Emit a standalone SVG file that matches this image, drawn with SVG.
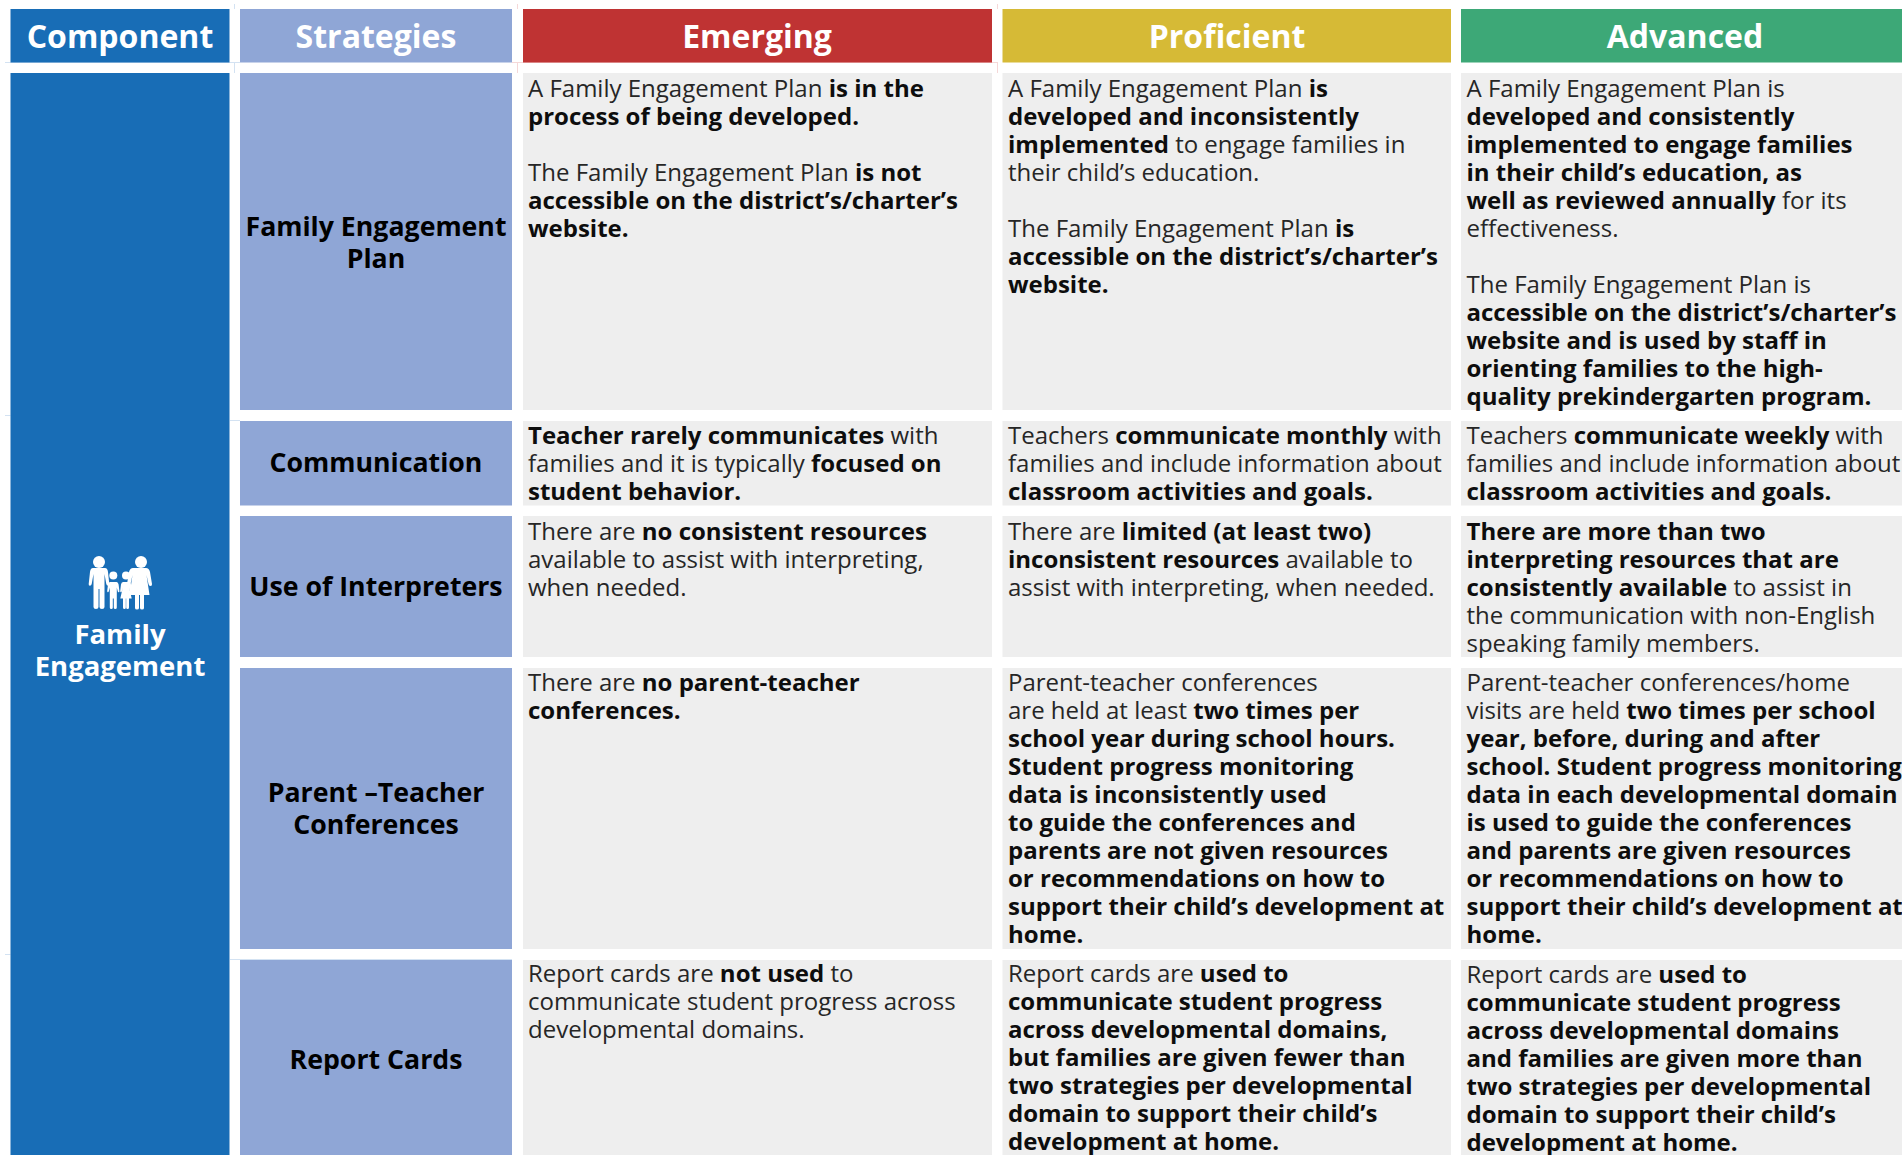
<svg xmlns="http://www.w3.org/2000/svg" width="1902" height="1155" viewBox="0 0 1902 1155">
<style>
text{font-family:"Open Sans","Noto Sans","Liberation Sans",sans-serif}
.h{font-size:32px;font-weight:700;fill:#fff;text-anchor:middle}
.s{font-size:26.7px;font-weight:700;fill:#000;text-anchor:middle}
.c{font-size:27.5px;font-weight:700;fill:#fff;text-anchor:middle}
.t{font-size:24px;fill:#262626}
.b{font-weight:700;fill:#0d0d0d}
.g{fill:#eee}.l{fill:#8fa6d6}
.i{fill:#fff}
.rb{stroke:#d3e2f2;stroke-width:1;fill:none}
.rr{stroke:#f5d8d8;stroke-width:1;fill:none}
</style>
<rect width="1902" height="1155" fill="#fff"/>
<g id="table-rules">
<path class="rb" d="M5 62.500H240M234.500 4V9M234.500 62V73M5 415.500H10.500M230 420.500H240M5 954.500H10.500M230 959.500H512"/>
<path class="rr" d="M517.500 4V9M517.500 62V73M512 62.500H997M997.500 4V9M997.500 62V73"/>
</g>
<g id="header">
<rect x="10.500" y="9" width="219" height="53.500" fill="#186db6"/><text class="h" x="120" y="48">Component</text>
<rect x="240" y="9" width="272" height="53.500" fill="#8fa6d6"/><text class="h" x="376" y="48">Strategies</text>
<rect x="523" y="9" width="469" height="53.500" fill="#bf3333"/><text class="h" x="757" y="48">Emerging</text>
<rect x="1002.500" y="9" width="448.500" height="53.500" fill="#d6ba36"/><text class="h" x="1227" y="48">Proficient</text>
<rect x="1461" y="9" width="441" height="53.500" fill="#3da877"/><text class="h" x="1685" y="48">Advanced</text>
</g>
<g id="component">
<rect x="10.500" y="73" width="219" height="1082" fill="#186db6"/>
<g class="i">
<circle cx="99" cy="562" r="6"/><path d="M93 568h12q2.500 0 3 4l1.300 12q.2 1.700-1.200 1.700t-1.800-1.700l-1.800-10v33q0 2-2.500 2t-2.500-2v-18h-1v18q0 2-2.500 2t-2.500-2v-33l-1.800 10q-.4 1.700-1.800 1.700t-1.200-1.700l1.300-12q.5-4 3-4z"/>
<circle cx="113.300" cy="575.500" r="4"/><path d="M110 582h6.600q1.600 0 2 2.500l.8 6.500q.2 1.200-.7 1.200t-1-1.200l-.9-3.500v20q0 1.500-1.500 1.500t-1.500-1.500v-9h-1v9q0 1.500-1.500 1.500t-1.500-1.500v-20l-.9 3.500q-.3 1.200-1 1.200t-.7-1.200l.8-6.500q.4-2.500 2-2.500z"/>
<circle cx="126" cy="575.500" r="4"/><path d="M123 582h6q1.600 0 2 2.500l.8 6.500q.2 1.200-.7 1.200t-1-1.200l-.9-3.500 2.500 11h-2.700v9q0 1.500-1.400 1.500t-1.400-1.500v-9h-.4v9q0 1.500-1.400 1.500t-1.400-1.500v-9h-2.700l2.500-11-.9 3.500q-.3 1.200-1 1.200t-.7-1.200l.8-6.500q.4-2.500 2-2.500z"/>
<circle cx="141" cy="562" r="6"/><path d="M136 568h10q3 0 4 4l2 12q.3 2-1.500 2t-2-2l-2-9 3 20h-5.500v13q0 1.500-2 1.500t-2-1.500v-13h-1v13q0 1.500-2 1.500t-2-1.500v-13h-5.500l3-20-2 9q-.5 2-2 2t-1.500-2l2-12q1-4 4-4z"/>
</g>
<text class="c" x="120" y="644">Family</text><text class="c" x="120" y="675.500">Engagement</text>
</g>
<g id="row-plan">
<rect class="l" x="240" y="73" width="272" height="337"/>
<text class="s" x="376" y="236">Family Engagement</text><text class="s" x="376" y="267.500">Plan</text>
<rect class="g" x="523" y="73" width="469" height="337"/>
<text class="t" x="528" y="97">A Family Engagement Plan <tspan class="b">is in the</tspan></text>
<text class="t b" x="528" y="125">process of being developed.</text>
<text class="t" x="528" y="181">The Family Engagement Plan <tspan class="b">is not</tspan></text>
<text class="t b" x="528" y="209">accessible on the district’s/charter’s</text>
<text class="t b" x="528" y="237">website.</text>
<rect class="g" x="1002.500" y="73" width="448.500" height="337"/>
<text class="t" x="1008" y="97">A Family Engagement Plan <tspan class="b">is</tspan></text>
<text class="t b" x="1008" y="125">developed and inconsistently</text>
<text class="t" x="1008" y="153"><tspan class="b">implemented</tspan> to engage families in</text>
<text class="t" x="1008" y="181">their child’s education.</text>
<text class="t" x="1008" y="237">The Family Engagement Plan <tspan class="b">is</tspan></text>
<text class="t b" x="1008" y="265">accessible on the district’s/charter’s</text>
<text class="t b" x="1008" y="293">website.</text>
<rect class="g" x="1461" y="73" width="441" height="337"/>
<text class="t" x="1466.500" y="97">A Family Engagement Plan is</text>
<text class="t b" x="1466.500" y="125">developed and consistently</text>
<text class="t b" x="1466.500" y="153">implemented to engage families</text>
<text class="t b" x="1466.500" y="181">in their child’s education, as</text>
<text class="t" x="1466.500" y="209"><tspan class="b">well as reviewed annually</tspan> for its</text>
<text class="t" x="1466.500" y="237">effectiveness.</text>
<text class="t" x="1466.500" y="293">The Family Engagement Plan is</text>
<text class="t b" x="1466.500" y="321">accessible on the district’s/charter’s</text>
<text class="t b" x="1466.500" y="349">website and is used by staff in</text>
<text class="t b" x="1466.500" y="377">orienting families to the high-</text>
<text class="t b" x="1466.500" y="405">quality prekindergarten program.</text>
</g>
<g id="row-communication">
<rect class="l" x="240" y="421" width="272" height="84.500"/>
<text class="s" x="376" y="472">Communication</text>
<rect class="g" x="523" y="421" width="469" height="84.500"/>
<text class="t" x="528" y="443.500"><tspan class="b">Teacher rarely communicates</tspan> with</text>
<text class="t" x="528" y="471.500">families and it is typically <tspan class="b">focused on</tspan></text>
<text class="t b" x="528" y="499.500">student behavior.</text>
<rect class="g" x="1002.500" y="421" width="448.500" height="84.500"/>
<text class="t" x="1008" y="443.500">Teachers <tspan class="b">communicate monthly</tspan> with</text>
<text class="t" x="1008" y="471.500">families and include information about</text>
<text class="t b" x="1008" y="499.500">classroom activities and goals.</text>
<rect class="g" x="1461" y="421" width="441" height="84.500"/>
<text class="t" x="1466.500" y="443.500">Teachers <tspan class="b">communicate weekly</tspan> with</text>
<text class="t" x="1466.500" y="471.500">families and include information about</text>
<text class="t b" x="1466.500" y="499.500">classroom activities and goals.</text>
</g>
<g id="row-interpreters">
<rect class="l" x="240" y="516" width="272" height="141"/>
<text class="s" x="376" y="596">Use of Interpreters</text>
<rect class="g" x="523" y="516" width="469" height="141"/>
<text class="t" x="528" y="539.500">There are <tspan class="b">no consistent resources</tspan></text>
<text class="t" x="528" y="567.500">available to assist with interpreting,</text>
<text class="t" x="528" y="595.500">when needed.</text>
<rect class="g" x="1002.500" y="516" width="448.500" height="141"/>
<text class="t" x="1008" y="539.500">There are <tspan class="b">limited (at least two)</tspan></text>
<text class="t" x="1008" y="567.500"><tspan class="b">inconsistent resources</tspan> available to</text>
<text class="t" x="1008" y="595.500">assist with interpreting, when needed.</text>
<rect class="g" x="1461" y="516" width="441" height="141"/>
<text class="t b" x="1466.500" y="539.500">There are more than two</text>
<text class="t b" x="1466.500" y="567.500">interpreting resources that are</text>
<text class="t" x="1466.500" y="595.500"><tspan class="b">consistently available</tspan> to assist in</text>
<text class="t" x="1466.500" y="623.500">the communication with non-English</text>
<text class="t" x="1466.500" y="651.500">speaking family members.</text>
</g>
<g id="row-conferences">
<rect class="l" x="240" y="668" width="272" height="281"/>
<text class="s" x="376" y="802">Parent –Teacher</text><text class="s" x="376" y="834">Conferences</text>
<rect class="g" x="523" y="668" width="469" height="281"/>
<text class="t" x="528" y="691">There are <tspan class="b">no parent-teacher</tspan></text>
<text class="t b" x="528" y="719">conferences.</text>
<rect class="g" x="1002.500" y="668" width="448.500" height="281"/>
<text class="t" x="1008" y="691">Parent-teacher conferences</text>
<text class="t" x="1008" y="719">are held at least <tspan class="b">two times per</tspan></text>
<text class="t b" x="1008" y="747">school year during school hours.</text>
<text class="t b" x="1008" y="775">Student progress monitoring</text>
<text class="t b" x="1008" y="803">data is inconsistently used</text>
<text class="t b" x="1008" y="831">to guide the conferences and</text>
<text class="t b" x="1008" y="859">parents are not given resources</text>
<text class="t b" x="1008" y="887">or recommendations on how to</text>
<text class="t b" x="1008" y="915">support their child’s development at</text>
<text class="t b" x="1008" y="943">home.</text>
<rect class="g" x="1461" y="668" width="441" height="281"/>
<text class="t" x="1466.500" y="691">Parent-teacher conferences/home</text>
<text class="t" x="1466.500" y="719">visits are held <tspan class="b">two times per school</tspan></text>
<text class="t b" x="1466.500" y="747">year, before, during and after</text>
<text class="t b" x="1466.500" y="775">school. Student progress monitoring</text>
<text class="t b" x="1466.500" y="803">data in each developmental domain</text>
<text class="t b" x="1466.500" y="831">is used to guide the conferences</text>
<text class="t b" x="1466.500" y="859">and parents are given resources</text>
<text class="t b" x="1466.500" y="887">or recommendations on how to</text>
<text class="t b" x="1466.500" y="915">support their child’s development at</text>
<text class="t b" x="1466.500" y="943">home.</text>
</g>
<g id="row-report-cards">
<rect class="l" x="240" y="960" width="272" height="195"/>
<text class="s" x="376" y="1069">Report Cards</text>
<rect class="g" x="523" y="960" width="469" height="195"/>
<text class="t" x="528" y="982">Report cards are <tspan class="b">not used</tspan> to</text>
<text class="t" x="528" y="1010">communicate student progress across</text>
<text class="t" x="528" y="1038">developmental domains.</text>
<rect class="g" x="1002.500" y="960" width="448.500" height="195"/>
<text class="t" x="1008" y="982">Report cards are <tspan class="b">used to</tspan></text>
<text class="t b" x="1008" y="1010">communicate student progress</text>
<text class="t b" x="1008" y="1038">across developmental domains,</text>
<text class="t b" x="1008" y="1066">but families are given fewer than</text>
<text class="t b" x="1008" y="1094">two strategies per developmental</text>
<text class="t b" x="1008" y="1122">domain to support their child’s</text>
<text class="t b" x="1008" y="1150">development at home.</text>
<rect class="g" x="1461" y="960" width="441" height="195"/>
<text class="t" x="1466.500" y="983">Report cards are <tspan class="b">used to</tspan></text>
<text class="t b" x="1466.500" y="1011">communicate student progress</text>
<text class="t b" x="1466.500" y="1039">across developmental domains</text>
<text class="t b" x="1466.500" y="1067">and families are given more than</text>
<text class="t b" x="1466.500" y="1095">two strategies per developmental</text>
<text class="t b" x="1466.500" y="1123">domain to support their child’s</text>
<text class="t b" x="1466.500" y="1151">development at home.</text>
</g>
</svg>
